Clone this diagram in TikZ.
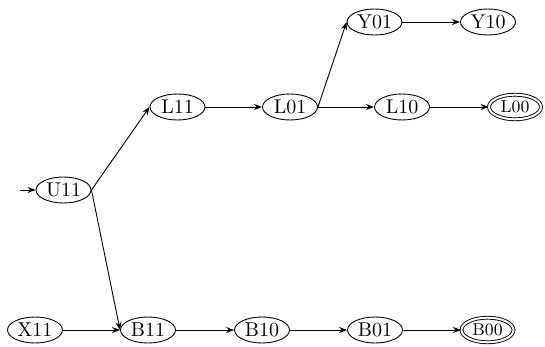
\documentclass[tikz,border=0pt]{standalone}
\usetikzlibrary{shapes.geometric,arrows.meta}
\begin{document}
\begin{tikzpicture}[x=0.5pt,y=-0.5pt,
  state/.style={ellipse,draw,line width=0.45pt,inner sep=0pt,minimum width=27.5pt,minimum height=13pt,font=\fontsize{10}{12}\selectfont},
  final/.style={state,double,double distance=1pt,minimum width=26pt,minimum height=12.3pt,font=\fontsize{8.6}{10}\selectfont},
  trans/.style={-{Stealth[length=4pt,width=3pt]},line width=0.45pt}]
  \useasboundingbox (0,0) rectangle (545,347);
  % states
  \node[state] (U11) at (63.5,190) {U11};
  \node[state] (L11) at (177.5,107) {L11};
  \node[state] (L01) at (290,107) {L01};
  \node[state] (L10) at (402,107) {L10};
  \node[final] (L00) at (515,107) {L00};
  \node[state] (Y01) at (374.5,22) {Y01};
  \node[state] (Y10) at (488,22) {Y10};
  \node[state] (X11) at (35,330) {X11};
  \node[state] (B11) at (148,330) {B11};
  \node[state] (B10) at (262,330) {B10};
  \node[state] (B01) at (375,330) {B01};
  \node[final] (B00) at (487.5,330) {B00};
  % initial marker
  \coordinate (start) at (20,190);
  \draw[trans] (start) -- (U11.west);
  % transitions
  \draw[trans] (U11.east) -- (L11.west);
  \draw[trans] (U11.east) -- (B11.west);
  \draw[trans] (L11.east) -- (L01.west);
  \draw[trans] (L01.east) -- (L10.west);
  \draw[trans] (L01.east) -- (Y01.west);
  \draw[trans] (L10.east) -- (L00.west);
  \draw[trans] (Y01.east) -- (Y10.west);
  \draw[trans] (X11.east) -- (B11.west);
  \draw[trans] (B11.east) -- (B10.west);
  \draw[trans] (B10.east) -- (B01.west);
  \draw[trans] (B01.east) -- (B00.west);
\end{tikzpicture}
\end{document}
